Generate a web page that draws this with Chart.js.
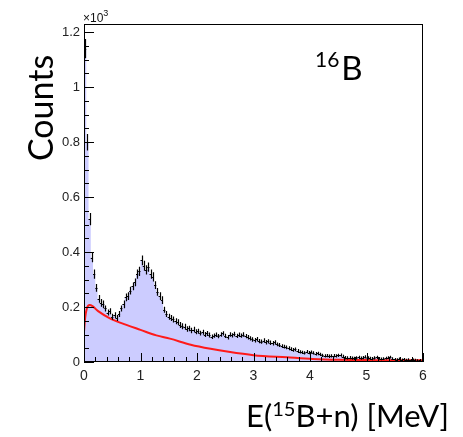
<!DOCTYPE html>
<html>
<head>
<meta charset="utf-8">
<script src="https://cdn.jsdelivr.net/npm/chart.js@4.4.1/dist/chart.umd.min.js"></script>
<style>
body { margin: 0; background: #fff; }
#wrap { width: 463px; height: 437px; position: relative; }
</style>
</head>
<body>
<div id="wrap"><canvas id="c"></canvas></div>
<script>
// histogram: 150 bins of 0.04 MeV, counts in units of 10^3
var binWidth = 0.04;
var counts = [
  1.14,0.80,0.52,0.38,0.32,0.27,0.23,0.215,0.21,0.195,
  0.18,0.185,0.165,0.17,0.16,0.175,0.195,0.21,0.235,0.24,
  0.26,0.275,0.29,0.32,0.33,0.37,0.35,0.335,0.345,0.32,
  0.31,0.28,0.255,0.24,0.225,0.19,0.175,0.165,0.16,0.155,
  0.148,0.145,0.135,0.13,0.128,0.12,0.122,0.115,0.118,0.11,
  0.112,0.105,0.108,0.1,0.104,0.098,0.092,0.096,0.099,0.094,
  0.1,0.104,0.095,0.09,0.1,0.097,0.102,0.095,0.099,0.096,
  0.1,0.094,0.09,0.086,0.082,0.079,0.083,0.076,0.074,0.078,
  0.072,0.075,0.07,0.068,0.071,0.064,0.062,0.058,0.056,0.053,
  0.05,0.047,0.044,0.046,0.04,0.037,0.035,0.033,0.038,0.034,
  0.036,0.033,0.03,0.031,0.028,0.024,0.022,0.023,0.021,0.022,
  0.023,0.022,0.024,0.025,0.02,0.016,0.015,0.016,0.014,0.013,
  0.015,0.017,0.014,0.016,0.019,0.015,0.013,0.012,0.015,0.017,
  0.013,0.011,0.012,0.014,0.016,0.018,0.012,0.01,0.009,0.011,
  0.008,0.01,0.007,0.009,0.006,0.008,0.007,0.005,0.006,0.004
];
var errs = [
  0.035,0.03,0.022,0.017,0.017,0.014,0.014,0.014,0.014,0.011,
  0.011,0.011,0.011,0.011,0.011,0.011,0.011,0.014,0.014,0.014,
  0.014,0.014,0.014,0.017,0.017,0.018,0.018,0.017,0.017,0.017,
  0.017,0.014,0.014,0.014,0.014,0.011,0.011,0.011,0.011,0.011,
  0.011,0.011,0.011,0.011,0.011,0.01,0.01,0.01,0.01,0.009,
  0.009,0.009,0.009,0.009,0.009,0.009,0.008,0.008,0.008,0.008,
  0.008,0.008,0.008,0.008,0.008,0.008,0.008,0.008,0.008,0.008,
  0.008,0.008,0.008,0.008,0.008,0.008,0.008,0.008,0.008,0.008,
  0.008,0.008,0.008,0.008,0.008,0.007,0.007,0.007,0.007,0.007,
  0.007,0.007,0.007,0.007,0.007,0.006,0.006,0.006,0.006,0.006,
  0.006,0.006,0.006,0.006,0.006,0.006,0.006,0.006,0.006,0.006,
  0.006,0.006,0.006,0.006,0.006,0.006,0.006,0.006,0.006,0.006,
  0.006,0.006,0.006,0.006,0.006,0.006,0.006,0.006,0.006,0.006,
  0.005,0.005,0.005,0.005,0.005,0.005,0.005,0.005,0.005,0.005,
  0.005,0.005,0.005,0.005,0.005,0.005,0.005,0.005,0.005,0.005
];
// background fit curve (red)
var fitE = [0, 0.02, 0.05, 0.1, 0.15, 0.25, 0.45, 0.75, 1.0, 1.28, 1.52, 1.89, 2.24, 2.56, 3.0, 3.59, 4.05, 4.5, 5.0, 5.5, 6.0];
var fitY = [0.11, 0.16, 0.195, 0.207, 0.203, 0.185, 0.16, 0.135, 0.117, 0.097, 0.085, 0.063, 0.048, 0.037, 0.025, 0.017, 0.011, 0.008, 0.007, 0.006, 0.006];
var xTicks = [0, 1, 2, 3, 4, 5, 6];
var yTicks = [0, 0.2, 0.4, 0.6, 0.8, 1, 1.2];

var histo = counts.map(function (v, i) { return { x: i * binWidth, y: v }; });
histo.push({ x: counts.length * binWidth, y: counts[counts.length - 1] });
var fit = fitE.map(function (e, i) { return { x: e, y: fitY[i] }; });

// ROOT-like error crosses
var errorBars = {
  id: 'errorBars',
  afterDatasetsDraw: function (chart) {
    var ctx = chart.ctx, xs = chart.scales.x, ys = chart.scales.y;
    ctx.save();
    ctx.strokeStyle = '#000';
    ctx.lineWidth = 1.2;
    ctx.beginPath();
    counts.forEach(function (v, i) {
      var xl = xs.getPixelForValue(i * binWidth), xr = xs.getPixelForValue((i + 1) * binWidth);
      var xc = Math.round((xl + xr) / 2) + 0.5;
      var y = Math.round(ys.getPixelForValue(v)) + 0.5;
      ctx.moveTo(xl, y); ctx.lineTo(xr, y);
      ctx.moveTo(xc, ys.getPixelForValue(v + errs[i]));
      ctx.lineTo(xc, ys.getPixelForValue(Math.max(0, v - errs[i])));
    });
    ctx.stroke();
    ctx.restore();
  }
};

// frame, inward ticks and the text labels
var frame = {
  id: 'frame',
  afterDraw: function (chart) {
    var ctx = chart.ctx, a = chart.chartArea, xs = chart.scales.x, ys = chart.scales.y;
    ctx.save();
    ctx.strokeStyle = '#000';
    ctx.lineWidth = 1;
    ctx.strokeRect(Math.round(a.left) + 0.5, Math.round(a.top) + 0.5, Math.round(a.right - a.left) - 1, Math.round(a.bottom - a.top) - 1);
    ctx.beginPath();
    var k, px, len;
    for (k = 0; k <= 30; k++) {
      px = Math.round(xs.getPixelForValue(k * 0.2)) + 0.5;
      len = (k % 5 === 0) ? 9 : 5;
      ctx.moveTo(px, a.bottom); ctx.lineTo(px, a.bottom - len);
    }
    for (k = 0; k <= 24; k++) {
      px = Math.round(ys.getPixelForValue(k * 0.05)) + 0.5;
      len = (k % 4 === 0) ? 10 : 5;
      ctx.moveTo(a.left, px); ctx.lineTo(a.left + len, px);
    }
    ctx.stroke();

    ctx.fillStyle = '#111';
    // x10^3
    ctx.font = '12px "Liberation Sans"';
    ctx.textBaseline = 'alphabetic';
    ctx.textAlign = 'left';
    ctx.fillText('\u00d710', a.left - 1, a.top - 2);
    var w = ctx.measureText('\u00d710').width;
    ctx.font = '9px "Liberation Sans"';
    ctx.fillText('3', a.left - 1 + w, a.top - 8);

    // y title
    ctx.fillStyle = '#000';
    ctx.font = '34px Lato';
    ctx.save();
    ctx.translate(53, 108);
    ctx.rotate(-Math.PI / 2);
    ctx.textAlign = 'center';
    ctx.fillText('Counts', 0, 0);
    ctx.restore();

    // x title
    var big = '31px Lato', small = '20px Lato';
    var parts = [['E(', big, 0], ['15', small, -11], ['B+n) [MeV]', big, 0]];
    ctx.textAlign = 'left';
    var total = 0;
    parts.forEach(function (p) { ctx.font = p[1]; total += ctx.measureText(p[0]).width; });
    var x = 449 - total;
    parts.forEach(function (p) { ctx.font = p[1]; ctx.fillText(p[0], x, 427 + p[2]); x += ctx.measureText(p[0]).width; });

    // nucleus label
    ctx.font = '21px Lato';
    ctx.fillText('16', 315, 67);
    w = ctx.measureText('16').width;
    ctx.font = '33px Lato';
    ctx.fillText('B', 315 + w + 2, 80);
    ctx.restore();
  }
};

new Chart(document.getElementById('c'), {
  data: {
    datasets: [
      {
        type: 'line',
        data: fit,
        borderColor: '#ff1a1a',
        borderWidth: 2,
        pointRadius: 0,
        cubicInterpolationMode: 'monotone',
        fill: false
      },
      {
        type: 'line',
        data: histo,
        stepped: 'before',
        fill: 'origin',
        backgroundColor: '#ccccff',
        borderColor: 'rgba(0,0,0,0)',
        borderWidth: 0,
        pointRadius: 0
      }
    ]
  },
  options: {
    responsive: true,
    maintainAspectRatio: false,
    animation: false,
    layout: { padding: { left: 0, right: 40, top: 24, bottom: 0 } },
    plugins: { legend: { display: false }, tooltip: { enabled: false } },
    scales: {
      x: {
        type: 'linear',
        min: 0, max: 6,
        grid: { display: false, drawTicks: false },
        border: { display: false },
        afterFit: function (s) { s.height = 75; },
        afterBuildTicks: function (s) { s.ticks = xTicks.map(function (v) { return { value: v }; }); },
        ticks: {
          padding: 6,
          maxRotation: 0,
          color: '#222',
          font: { family: 'Liberation Sans', size: 14 },
          callback: function (v) { return String(v); }
        }
      },
      y: {
        type: 'linear',
        min: 0, max: 1.23,
        grid: { display: false, drawTicks: false },
        border: { display: false },
        afterFit: function (s) { s.width = 84; },
        afterBuildTicks: function (s) { s.ticks = yTicks.map(function (v) { return { value: v }; }); },
        ticks: {
          padding: 4,
          color: '#222',
          font: { family: 'Liberation Sans', size: 13 },
          callback: function (v) { return String(+v.toFixed(1)); }
        }
      }
    }
  },
  plugins: [errorBars, frame]
});
</script>
</body>
</html>
